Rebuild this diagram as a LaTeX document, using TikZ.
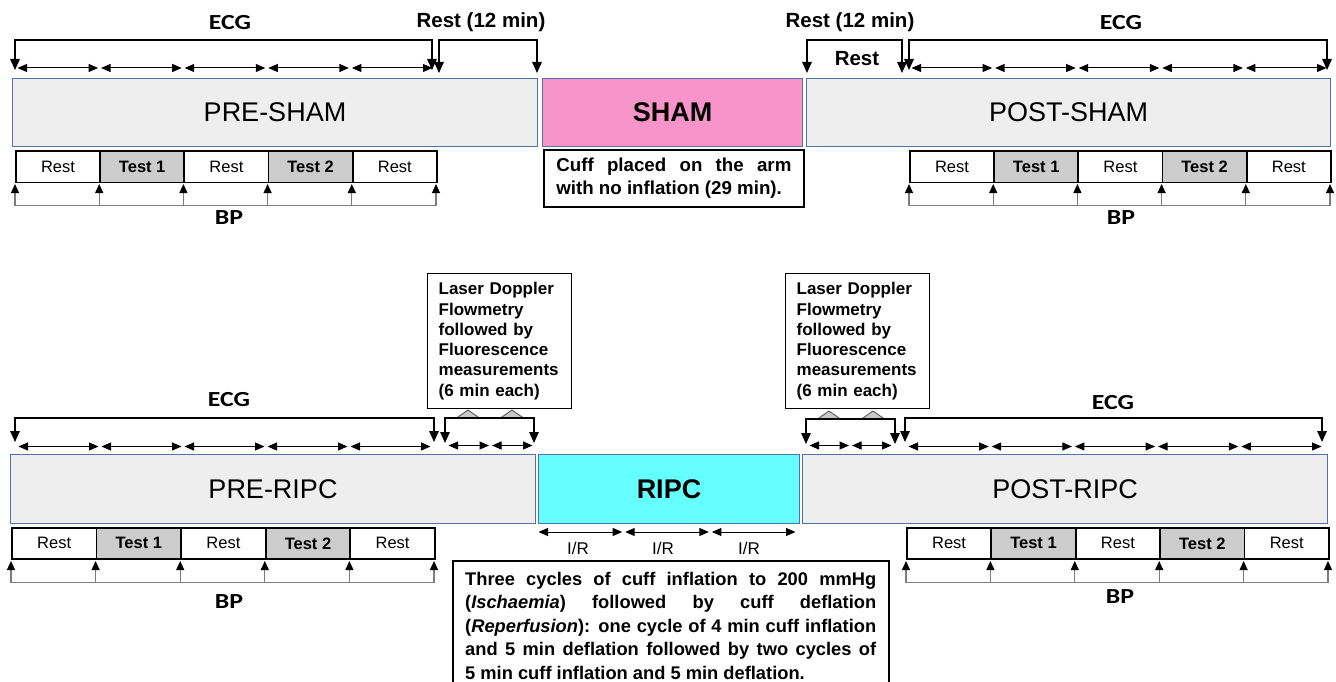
\documentclass[tikz,border=0pt]{standalone}
\usepackage{fontspec}
\usepackage{graphicx}
\setmainfont{Liberation Sans}
\newfontfamily\calfont{Carlito}
\usetikzlibrary{arrows.meta}
\definecolor{phasefill}{RGB}{238,238,238}
\definecolor{phaseedge}{RGB}{84,112,168}
\definecolor{shampink}{RGB}{247,148,201}
\definecolor{ripccyan}{RGB}{102,255,255}
\definecolor{testgray}{RGB}{204,204,204}
\definecolor{bpgray}{RGB}{125,125,125}
\definecolor{trigray}{RGB}{200,200,200}

\newcommand\mybrkt[5]{% prefix, x0, x1, yline, ytip
  \coordinate (#1l) at (#2,#5); \coordinate (#1r) at (#3,#5);
  \coordinate (#1tl) at (#2,#4); \coordinate (#1tr) at (#3,#4);
  \draw[brk] (#1l) -- (#1tl) -- (#1tr) -- (#1r);
}
\newcommand\mysarrows[5]{% prefix, x0, x1, y, n
  \pgfmathsetmacro\aw{(#3-#2)/#5}
  \foreach \i in {1,...,#5}{
    \coordinate (#1s\i) at ({#2+(\i-1)*\aw+1.5},#4);
    \coordinate (#1e\i) at ({#2+\i*\aw-1.5},#4);
    \draw[dbl] (#1s\i) -- (#1e\i);
  }
}
\newcommand\mytline[7]{% prefix, x0, x1, cell top, cell bottom, bp base, bp tip
  \pgfmathsetmacro\cw{(#3-#2)/5}
  \foreach \i/\lbl/\sty in {0/Rest/restcell,1/Test 1/testcell,2/Rest/restcell,3/Test 2/testcell,4/Rest/restcell}{
    \node[\sty, minimum width=\cw pt, minimum height={#5-#4}, anchor=north west] (#1c\i) at ({#2+\i*\cw},#4) {\lbl};
  }
  \foreach \i in {0,...,5}{
    \coordinate (#1b\i) at ({#2+\i*\cw},#6);
    \coordinate (#1t\i) at ({#2+\i*\cw},#7);
    \draw[bptip] (#1b\i) -- (#1t\i);
  }
  \draw[bpline] (#1b0) -- (#1b5);
}

\begin{document}
\begin{tikzpicture}[x=1pt,y=-1pt,
  phase/.style={draw=phaseedge, line width=1pt, fill=phasefill, font=\fontsize{27}{32}\selectfont, inner sep=0pt, anchor=north west},
  core/.style={phase, font=\bfseries\fontsize{27}{32}\selectfont},
  restcell/.style={draw=black, line width=1.8pt, fill=white, inner sep=0pt, font=\fontsize{16.5}{20}\selectfont},
  testcell/.style={restcell, fill=testgray, font=\bfseries\fontsize{16.5}{20}\selectfont},
  dbl/.style={line width=1pt, {Triangle[length=9.5pt,width=8pt]}-{Triangle[length=9.5pt,width=8pt]}},
  brk/.style={line width=1.5pt, line join=miter, {Triangle[length=11pt,width=9.5pt]}-{Triangle[length=11pt,width=9.5pt]}},
  bpline/.style={draw=bpgray, line width=1.1pt},
  bptip/.style={bpline, -{Triangle[length=9pt,width=8pt,color=black]}},
  lab/.style={font=\calfont\bfseries\fontsize{21.5}{24}\selectfont, inner sep=0pt},
  hdr/.style={font=\bfseries\fontsize{20.5}{24}\selectfont, inner sep=0pt},
  desc/.style={draw=black, line width=1.8pt, fill=white, anchor=north west},
  laser/.style={draw=black, line width=1.3pt, fill=white, anchor=north west, text width=122pt, inner xsep=11pt, minimum width=144pt, minimum height=135pt, align=left, font=\bfseries\fontsize{17}{20.3}\selectfont},
  tri/.style={draw=black!70, fill=trigray, line width=0.8pt},
  irlab/.style={font=\fontsize{17}{20}\selectfont, inner sep=0pt}
]
\useasboundingbox (0,0) rectangle (1336,682);
\clip (0,0) rectangle (1336,682);

% ================= TOP: SHAM =================
\node[lab] (ecgA) at (230,23) {\scalebox{1.2}[1]{ECG}};
\node[hdr] (restA) at (481,22) {Rest (12 min)};
\node[hdr] (restB) at (850,22) {Rest (12 min)};
\node[lab] (ecgB) at (1121,23) {\scalebox{1.2}[1]{ECG}};

\mybrkt{ea}{15}{432}{40}{70}
\mybrkt{ra}{439}{537}{40}{73}
\mysarrows{sa}{16}{434}{68}{5}

\node[phase, minimum width=525pt, minimum height=68pt] (presham) at (12,78) {PRE-SHAM};
\node[core, fill=shampink, minimum width=260pt, minimum height=68pt] (sham) at (542,78) {SHAM};
\node[phase, minimum width=524pt, minimum height=68pt] (postsham) at (806,78) {POST-SHAM};

\mytline{pa}{15}{436}{150}{181.5}{205.5}{184}
\node[desc, text width=235pt, inner xsep=12.5pt, minimum width=260pt, minimum height=57pt, align=justify, font=\bfseries\fontsize{18.7}{23.5}\selectfont] (cuff) at (543,149) {Cuff placed on the arm\linebreak with no inflation (29 min).};

\mybrkt{rb}{807}{902}{40}{73}
\node[hdr] (restC) at (857,59) {Rest};
\mybrkt{eb}{909}{1327}{40}{70}
\mysarrows{sb}{910}{1328}{68}{5}
\mytline{pb}{909}{1330}{150}{181.5}{205.5}{184}

\node[lab] (bpA) at (229,218) {\scalebox{1.2}[1]{BP}};
\node[lab] (bpB) at (1121,218) {\scalebox{1.2}[1]{BP}};

% ================= BOTTOM: RIPC =================
\node[laser] (laserA) at (427,273) {Laser Doppler\\Flowmetry\\followed by\\Fluorescence\\measurements\\(6 min each)};
\node[laser] (laserB) at (785,273) {Laser Doppler\\Flowmetry\\followed by\\Fluorescence\\measurements\\(6 min each)};

\node[lab] (ecgC) at (229,400) {\scalebox{1.2}[1]{ECG}};
\node[lab] (ecgD) at (1113,403) {\scalebox{1.2}[1]{ECG}};

\mybrkt{ec}{15}{434}{418}{442}
\mysarrows{sc}{17}{432}{446.5}{5}

\draw[tri] (456.5,418) -- (468,410) -- (479.5,418) -- cycle;
\draw[tri] (500.5,418) -- (512,410) -- (523.5,418) -- cycle;
\mybrkt{la}{445}{534}{418}{443}
\mysarrows{sla}{447}{534}{445.5}{2}

\draw[tri] (817.5,419) -- (829,411) -- (840.5,419) -- cycle;
\draw[tri] (861.5,419) -- (873,411) -- (884.5,419) -- cycle;
\mybrkt{lb}{806}{895}{419}{444}
\mysarrows{slb}{808}{893}{445.5}{2}

\mybrkt{ed}{905}{1322}{418}{442}
\mysarrows{sd}{907}{1323}{446.5}{5}

\node[phase, minimum width=525pt, minimum height=69pt] (preripc) at (10,454) {PRE-RIPC};
\node[core, fill=ripccyan, minimum width=261pt, minimum height=69pt] (ripc) at (538,454) {RIPC};
\node[phase, minimum width=525pt, minimum height=69pt] (postripc) at (802,454) {POST-RIPC};

\mytline{pc}{11}{434}{527}{558}{582.7}{561}
\mytline{pd}{906}{1328}{527}{558}{582.7}{561}

\node[lab] (bpC) at (229,602) {\scalebox{1.2}[1]{BP}};
\node[lab] (bpD) at (1120,597) {\scalebox{1.2}[1]{BP}};

\mysarrows{ir}{537}{797}{532}{3}
\node[irlab] (irA) at (578,548) {I/R};
\node[irlab] (irB) at (663,548) {I/R};
\node[irlab] (irC) at (749,548) {I/R};

\node[desc, minimum width=436pt, minimum height=140pt, inner sep=0pt] (ripcbox) at (452,560) {};
\node[anchor=north west, inner sep=0pt, text width=411pt, align=justify, font=\bfseries\fontsize{18.3}{23.5}\selectfont] (ripctext) at (465,572) {Three cycles of cuff inflation to 200 mmHg\linebreak (\textit{Ischaemia}) followed by cuff deflation\linebreak (\textit{Reperfusion}): one cycle of 4 min cuff inflation\linebreak and 5 min deflation followed by two cycles of\linebreak 5 min cuff inflation and 5 min deflation.};
\end{tikzpicture}
\end{document}
